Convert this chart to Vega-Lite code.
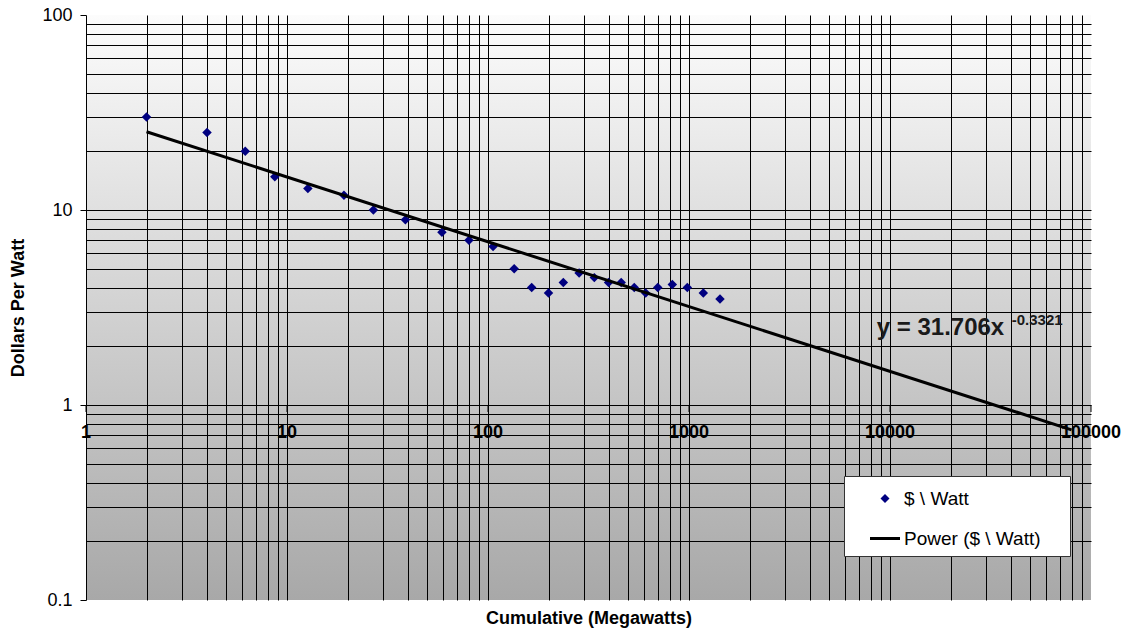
{
  "$schema": "https://vega.github.io/schema/vega-lite/v6.json",
  "width": 1005,
  "height": 585,
  "autosize": {"type": "none"},
  "padding": {"left": 86, "top": 15, "right": 36, "bottom": 30},
  "background": "white",
  "config": {
    "view": {"stroke": null},
    "font": "Liberation Sans",
    "legend": {
      "orient": "none",
      "legendX": 758,
      "legendY": 461,
      "fillColor": "white",
      "strokeColor": "#333333",
      "padding": 7.5,
      "symbolSize": 900,
      "symbolOffset": 18.5,
      "symbolStrokeWidth": 0,
      "symbolOpacity": 1,
      "rowPadding": 15,
      "labelOffset": 4,
      "labelFont": "Liberation Sans",
      "labelFontSize": 19,
      "labelColor": "black",
      "labelLimit": 400
    }
  },
  "view": {
    "stroke": null,
    "fill": {
      "gradient": "linear",
      "x1": 0, "y1": 0, "x2": 0, "y2": 1,
      "stops": [{"offset": 0, "color": "#fcfcfc"}, {"offset": 1, "color": "#a8a8a8"}]
    }
  },
  "datasets": {
    "points": [
      {"Cumulative": 2, "Dollars": 30, "series": "$ \\ Watt"},
      {"Cumulative": 4, "Dollars": 25, "series": "$ \\ Watt"},
      {"Cumulative": 6.2, "Dollars": 20, "series": "$ \\ Watt"},
      {"Cumulative": 8.7, "Dollars": 14.8, "series": "$ \\ Watt"},
      {"Cumulative": 12.7, "Dollars": 12.9, "series": "$ \\ Watt"},
      {"Cumulative": 19.2, "Dollars": 11.9, "series": "$ \\ Watt"},
      {"Cumulative": 26.9, "Dollars": 10, "series": "$ \\ Watt"},
      {"Cumulative": 38.8, "Dollars": 8.9, "series": "$ \\ Watt"},
      {"Cumulative": 59, "Dollars": 7.7, "series": "$ \\ Watt"},
      {"Cumulative": 80.4, "Dollars": 7, "series": "$ \\ Watt"},
      {"Cumulative": 106, "Dollars": 6.5, "series": "$ \\ Watt"},
      {"Cumulative": 135, "Dollars": 5, "series": "$ \\ Watt"},
      {"Cumulative": 165, "Dollars": 4, "series": "$ \\ Watt"},
      {"Cumulative": 200, "Dollars": 3.75, "series": "$ \\ Watt"},
      {"Cumulative": 237, "Dollars": 4.25, "series": "$ \\ Watt"},
      {"Cumulative": 284, "Dollars": 4.75, "series": "$ \\ Watt"},
      {"Cumulative": 338, "Dollars": 4.5, "series": "$ \\ Watt"},
      {"Cumulative": 398, "Dollars": 4.25, "series": "$ \\ Watt"},
      {"Cumulative": 460, "Dollars": 4.25, "series": "$ \\ Watt"},
      {"Cumulative": 534, "Dollars": 4, "series": "$ \\ Watt"},
      {"Cumulative": 609, "Dollars": 3.75, "series": "$ \\ Watt"},
      {"Cumulative": 699, "Dollars": 4, "series": "$ \\ Watt"},
      {"Cumulative": 826, "Dollars": 4.15, "series": "$ \\ Watt"},
      {"Cumulative": 981, "Dollars": 4, "series": "$ \\ Watt"},
      {"Cumulative": 1178, "Dollars": 3.75, "series": "$ \\ Watt"},
      {"Cumulative": 1426, "Dollars": 3.5, "series": "$ \\ Watt"}
    ],
    "trend": [
      {"Cumulative": 2, "Dollars": 25.19, "series": "Power ($ \\ Watt)"},
      {"Cumulative": 80000, "Dollars": 0.746, "series": "Power ($ \\ Watt)"}
    ],
    "decades": [
      {"Cumulative": 1, "label": "1"},
      {"Cumulative": 10, "label": "10"},
      {"Cumulative": 100, "label": "100"},
      {"Cumulative": 1000, "label": "1000"},
      {"Cumulative": 10000, "label": "10000"},
      {"Cumulative": 100000, "label": "100000"}
    ],
    "notes": [
      {"Cumulative": 8590, "Dollars": 2.47, "text": "y = 31.706x", "part": "main"},
      {"Cumulative": 40330, "Dollars": 2.73, "text": "-0.3321", "part": "sup"}
    ]
  },
  "layer": [
    {
      "data": {"name": "points"},
      "mark": {"type": "point", "filled": true, "size": 1000, "opacity": 1},
      "encoding": {
        "x": {
          "field": "Cumulative",
          "type": "quantitative",
          "scale": {"type": "log", "domain": [1, 100000], "nice": false},
          "axis": {
            "values": [2,3,4,5,6,7,8,9,10,20,30,40,50,60,70,80,90,100,200,300,400,500,600,700,800,900,1000,2000,3000,4000,5000,6000,7000,8000,9000,10000,20000,30000,40000,50000,60000,70000,80000,90000],
            "labels": false,
            "ticks": false,
            "domain": false,
            "grid": true,
            "gridColor": "black",
            "gridWidth": 1,
            "gridOpacity": 1,
            "title": "Cumulative (Megawatts)",
            "titleFont": "Liberation Sans",
            "titleFontSize": 18,
            "titleFontWeight": "bold",
            "titleColor": "black",
            "titleX": 502.5,
            "titleY": 18,
            "titleAlign": "center",
            "titleBaseline": "middle"
          }
        },
        "y": {
          "field": "Dollars",
          "type": "quantitative",
          "scale": {"type": "log", "domain": [0.1, 100], "nice": false},
          "axis": {
            "values": [0.1,0.2,0.3,0.4,0.5,0.6,0.7,0.8,0.9,1,2,3,4,5,6,7,8,9,10,20,30,40,50,60,70,80,90,100],
            "labelExpr": "indexof([0.1,1,10,100], datum.value) >= 0 ? datum.value + '' : ''",
            "labelFont": "Liberation Sans",
            "labelFontSize": 18,
            "labelColor": "black",
            "labelPadding": 8,
            "labelOverlap": false,
            "labelFlush": false,
            "tickSize": 6,
            "tickColor": "black",
            "tickOpacity": {"condition": {"test": "indexof([0.1,1,10,100], datum.value) >= 0", "value": 1}, "value": 0},
            "grid": true,
            "gridColor": "black",
            "gridWidth": 1,
            "gridOpacity": {"condition": {"test": "datum.value === 0.1 || datum.value === 100", "value": 0}, "value": 1},
            "domain": true,
            "domainColor": "black",
            "domainWidth": 1,
            "title": "Dollars Per Watt",
            "titleFont": "Liberation Sans",
            "titleFontSize": 18,
            "titleFontWeight": "bold",
            "titleColor": "black",
            "titleX": -68,
            "titleY": 292.5,
            "titleAngle": -90,
            "titleAlign": "center",
            "titleBaseline": "middle"
          }
        },
        "color": {
          "field": "series",
          "type": "nominal",
          "scale": {"domain": ["$ \\ Watt", "Power ($ \\ Watt)"], "range": ["#000080", "#000000"]},
          "legend": {"title": null, "labelExpr": "datum.label + '\u00a0\u00a0\u00a0\u00a0\u200b'"}
        },
        "shape": {
          "field": "series",
          "type": "nominal",
          "scale": {"domain": ["$ \\ Watt", "Power ($ \\ Watt)"], "range": ["M0,-0.3L0.3,0L0,0.3L-0.3,0Z", "M-1,-0.1L1,-0.1L1,0.1L-1,0.1Z"]},
          "legend": {"title": null, "labelExpr": "datum.label + '\u00a0\u00a0\u00a0\u00a0\u200b'"}
        }
      }
    },
    {
      "data": {"name": "trend"},
      "mark": {"type": "line", "strokeWidth": 3},
      "encoding": {
        "x": {"field": "Cumulative", "type": "quantitative"},
        "y": {"field": "Dollars", "type": "quantitative"},
        "color": {
          "field": "series",
          "type": "nominal",
          "legend": {"title": null, "labelExpr": "datum.label + '\u00a0\u00a0\u00a0\u00a0\u200b'"}
        }
      }
    },
    {
      "data": {"name": "decades"},
      "mark": {"type": "tick", "orient": "vertical", "size": 7, "thickness": 1, "color": "black", "yOffset": 3.5, "opacity": 1},
      "encoding": {
        "x": {"field": "Cumulative", "type": "quantitative"},
        "y": {"datum": 1, "type": "quantitative"}
      }
    },
    {
      "data": {"name": "decades"},
      "mark": {"type": "text", "font": "Liberation Sans", "fontSize": 18, "fontWeight": "bold", "color": "black", "align": "center", "baseline": "middle", "dy": 28},
      "encoding": {
        "x": {"field": "Cumulative", "type": "quantitative"},
        "y": {"datum": 1, "type": "quantitative"},
        "text": {"field": "label"}
      }
    },
    {
      "data": {"name": "notes"},
      "transform": [{"filter": "datum.part === 'main'"}],
      "mark": {"type": "text", "font": "Liberation Sans", "fontSize": 24, "fontWeight": "bold", "color": "#1a1a1a", "align": "left", "baseline": "middle"},
      "encoding": {
        "x": {"field": "Cumulative", "type": "quantitative"},
        "y": {"field": "Dollars", "type": "quantitative"},
        "text": {"field": "text"}
      }
    },
    {
      "data": {"name": "notes"},
      "transform": [{"filter": "datum.part === 'sup'"}],
      "mark": {"type": "text", "font": "Liberation Sans", "fontSize": 15, "fontWeight": "bold", "color": "#1a1a1a", "align": "left", "baseline": "middle"},
      "encoding": {
        "x": {"field": "Cumulative", "type": "quantitative"},
        "y": {"field": "Dollars", "type": "quantitative"},
        "text": {"field": "text"}
      }
    }
  ]
}
